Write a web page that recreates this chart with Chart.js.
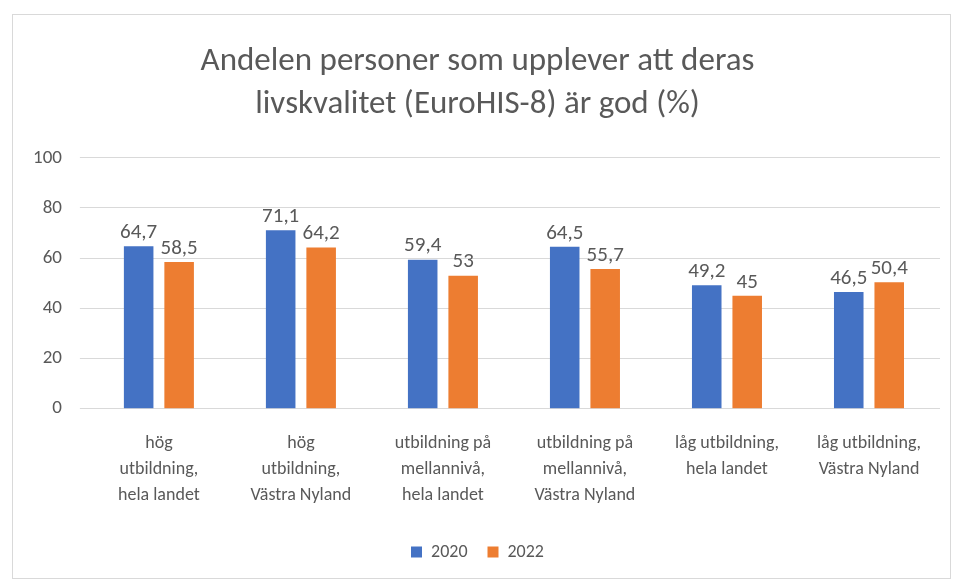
<!DOCTYPE html>
<html>
<head>
<meta charset="utf-8">
<script src="https://cdn.jsdelivr.net/npm/chart.js@4"></script>
<style>
  body { margin: 0; background: #fff; }
  #box { position: absolute; left: 12px; top: 14px; width: 937px; height: 563px; border: 1px solid #d9d9d9; }
</style>
</head>
<body>
<div id="box"><canvas id="myChart1" width="937" height="563"></canvas></div>
<script>
var categories = [
  ['hög', 'utbildning,', 'hela landet'],
  ['hög', 'utbildning,', 'Västra Nyland'],
  ['utbildning på', 'mellannivå,', 'hela landet'],
  ['utbildning på', 'mellannivå,', 'Västra Nyland'],
  ['låg utbildning,', 'hela landet'],
  ['låg utbildning,', 'Västra Nyland']
];
var values2020 = [64.7, 71.1, 59.4, 64.5, 49.2, 46.5];
var values2022 = [58.5, 64.2, 53, 55.7, 45, 50.4];
var yTicks = [0, 20, 40, 60, 80, 100];

var grey = '#595959';
var font = 'Calibri, Carlito, "Open Sans", sans-serif';

// values on top of bars, decimal comma
var barLabels = {
  id: 'barLabels',
  afterDatasetsDraw: function (chart) {
    var c = chart.ctx;
    c.save();
    c.font = '21px ' + font;
    c.fillStyle = grey;
    c.textAlign = 'center';
    c.textBaseline = 'bottom';
    chart.data.datasets.forEach(function (ds, i) {
      chart.getDatasetMeta(i).data.forEach(function (bar, j) {
        c.fillText(String(ds.data[j]).replace('.', ','), bar.x, bar.y - 3);
      });
    });
    c.restore();
  }
};

var ctx = document.getElementById('myChart1').getContext('2d');
var chart = new Chart(ctx, {
  type: 'bar',
  data: {
    labels: categories,
    datasets: [{
      label: '2020',
      data: values2020,
      backgroundColor: '#4472c4'
    }, {
      label: '2022',
      data: values2022,
      backgroundColor: '#ed7d31'
    }]
  },
  plugins: [barLabels],
  options: {
    responsive: false,
    animation: false,
    categoryPercentage: 0.57,
    barPercentage: 0.73,
    layout: { padding: { left: 2, right: 10, top: 14, bottom: 7 } },
    plugins: {
      title: {
        display: true,
        text: ['Andelen personer som upplever att deras', 'livskvalitet (EuroHIS-8) är god (%)'],
        color: grey,
        font: { size: 33, family: font, weight: 'normal', lineHeight: 1.3 },
        padding: { top: 11, bottom: 32 }
      },
      legend: {
        position: 'bottom',
        labels: {
          color: grey,
          boxWidth: 11,
          boxHeight: 11,
          padding: 20,
          font: { size: 18, family: font }
        }
      },
      tooltip: { enabled: false }
    },
    scales: {
      x: {
        grid: { display: false },
        border: { display: false },
        ticks: { color: grey, padding: 14, font: { size: 18, family: font, lineHeight: 1.45 }, maxRotation: 0, autoSkip: false }
      },
      y: {
        min: 0,
        max: 100,
        afterBuildTicks: function (axis) {
          axis.ticks = yTicks.map(function (v) { return { value: v }; });
        },
        grid: { color: '#d9d9d9' },
        border: { display: false },
        ticks: { color: grey, padding: 18, font: { size: 19, family: font } }
      }
    }
  }
});
</script>
</body>
</html>
